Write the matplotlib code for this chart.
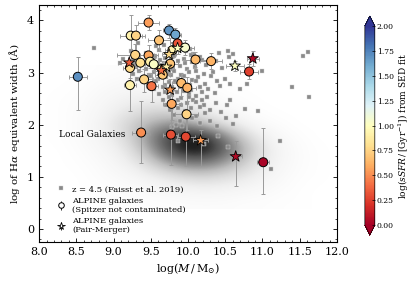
import matplotlib
matplotlib.use("Agg")
import matplotlib.pyplot as plt
import numpy as np
from matplotlib.ticker import AutoMinorLocator, MultipleLocator, FormatStrFormatter
from matplotlib.lines import Line2D

plt.rcParams['font.family'] = ['DejaVu Serif']
plt.rcParams['mathtext.fontset'] = 'dejavuserif'

# --- local galaxies: grey density (rows = y, cols = x)
dens_x = np.arange(8.0, 12.01, 0.25)
dens_y = np.array([0.5, 0.75, 1.0, 1.25, 1.5, 1.75, 2.0, 2.25, 2.5, 2.75, 3.0])
dens = np.array([
    [0, 0, 0, 0.00, 0.01, 0.01, 0.02, 0.02, 0.03, 0.03, 0.03, 0.02, 0.02, 0.01, 0.01, 0, 0],
    [0, 0, 0, 0.01, 0.02, 0.03, 0.05, 0.07, 0.09, 0.10, 0.09, 0.07, 0.05, 0.03, 0.01, 0, 0],
    [0, 0, 0, 0.02, 0.04, 0.07, 0.12, 0.18, 0.24, 0.26, 0.22, 0.16, 0.10, 0.05, 0.02, 0.01, 0],
    [0, 0, 0.01, 0.03, 0.07, 0.14, 0.28, 0.45, 0.58, 0.58, 0.46, 0.30, 0.16, 0.07, 0.03, 0.01, 0],
    [0, 0, 0.02, 0.05, 0.10, 0.22, 0.46, 0.76, 0.95, 0.92, 0.70, 0.42, 0.20, 0.08, 0.03, 0.01, 0],
    [0, 0.01, 0.03, 0.07, 0.15, 0.30, 0.55, 0.80, 0.94, 0.85, 0.58, 0.30, 0.13, 0.05, 0.02, 0, 0],
    [0, 0.01, 0.03, 0.08, 0.17, 0.30, 0.42, 0.50, 0.47, 0.34, 0.20, 0.10, 0.04, 0.02, 0, 0, 0],
    [0, 0.01, 0.03, 0.06, 0.12, 0.19, 0.25, 0.26, 0.21, 0.13, 0.07, 0.03, 0.01, 0, 0, 0, 0],
    [0, 0.01, 0.02, 0.05, 0.08, 0.11, 0.12, 0.11, 0.08, 0.05, 0.02, 0.01, 0, 0, 0, 0, 0],
    [0, 0, 0.01, 0.03, 0.05, 0.06, 0.06, 0.05, 0.03, 0.02, 0, 0, 0, 0, 0, 0, 0],
    [0, 0, 0, 0.01, 0.02, 0.03, 0.03, 0.02, 0.01, 0, 0, 0, 0, 0, 0, 0, 0],
])

# --- z = 4.5 galaxies (Faisst et al. 2019)
f_mass = [9.33, 9.57, 9.68, 9.93, 10.02,
          9.24, 9.43, 9.61, 9.74, 9.97, 10.07, 10.42,
          9.13, 9.31, 9.46, 9.56, 9.69, 9.81, 9.94, 10.04, 10.16, 10.55,
          9.08, 9.27, 9.39, 9.51, 9.63, 9.71, 9.87, 9.96, 10.06, 10.19, 10.38,
          9.19, 9.29, 9.44, 9.57, 9.67, 9.79, 9.89, 9.99, 10.09, 10.24, 10.46,
          9.26, 9.34, 9.47, 9.54, 9.63, 9.73, 9.81, 9.91, 10.01, 10.11, 10.21, 10.34,
          9.31, 9.49, 9.59, 9.71, 9.77, 9.86, 9.94, 10.06, 10.14, 10.31, 10.49,
          9.46, 9.57, 9.69, 9.74, 9.83, 9.91, 10.03, 10.11, 10.23, 10.39, 10.56,
          9.54, 9.66, 9.73, 9.79, 9.89, 9.96, 10.04, 10.16, 10.27, 10.43, 10.70,
          9.61, 9.69, 9.79, 9.85, 9.94, 10.01, 10.11, 10.19, 10.36,
          9.66, 9.74, 9.86, 9.91, 10.01, 10.07, 10.19, 10.26, 10.56,
          9.71, 9.81, 9.91, 9.99, 10.11, 10.21, 10.37, 10.53,
          9.76, 9.87, 9.96, 10.04, 10.16, 10.29, 10.76,
          9.81, 9.94, 10.11, 10.23, 10.44, 10.65, 10.94,
          9.89, 10.06, 10.29, 10.51,
          9.84, 10.16, 10.39, 10.61,
          9.79, 9.92, 9.87, 10.21, 10.54, 11.12, 11.23, 10.40,
          8.74, 10.54, 10.60, 10.79, 11.00, 11.40, 11.55, 11.61, 11.63]
f_ew = [3.57, 3.51, 3.53, 3.48, 3.45,
        3.42, 3.38, 3.44, 3.37, 3.41, 3.36, 3.38,
        3.27, 3.33, 3.26, 3.32, 3.28, 3.31, 3.27, 3.33, 3.29, 3.30,
        3.18, 3.23, 3.16, 3.22, 3.24, 3.17, 3.23, 3.18, 3.21, 3.24, 3.22,
        3.08, 3.13, 3.06, 3.12, 3.14, 3.07, 3.13, 3.06, 3.11, 3.14, 3.08,
        2.98, 3.03, 2.96, 3.02, 3.04, 2.97, 3.03, 2.96, 3.02, 3.04, 2.97, 3.01,
        2.88, 2.93, 2.87, 2.92, 2.95, 2.88, 2.93, 2.86, 2.92, 2.94, 2.88,
        2.78, 2.83, 2.77, 2.82, 2.84, 2.78, 2.77, 2.83, 2.78, 2.84, 2.79,
        2.68, 2.73, 2.67, 2.72, 2.74, 2.68, 2.66, 2.73, 2.69, 2.74, 2.69,
        2.58, 2.63, 2.57, 2.62, 2.64, 2.58, 2.56, 2.63, 2.61,
        2.48, 2.53, 2.47, 2.52, 2.54, 2.48, 2.47, 2.53, 2.48,
        2.38, 2.43, 2.37, 2.42, 2.44, 2.38, 2.42, 2.37,
        2.28, 2.33, 2.27, 2.32, 2.34, 2.28, 2.30,
        2.18, 2.23, 2.17, 2.22, 2.24, 2.17, 2.26,
        2.08, 2.13, 2.07, 2.12,
        1.99, 2.03, 1.97, 2.02,
        1.96, 1.98, 1.68, 1.63, 1.58, 1.15, 1.68, 1.78,
        3.47, 3.41, 3.35, 2.78, 3.03, 2.73, 3.31, 3.39, 2.53]

# --- ALPINE galaxies (Spitzer not contaminated)
a_mass = [8.52, 9.23, 9.30, 9.47, 9.745, 9.83, 9.86, 9.61, 9.79, 9.96, 9.29,
          9.47, 10.10, 10.31, 9.36, 9.49, 9.54, 9.22, 9.76, 9.65, 9.66, 9.41,
          9.22, 9.51, 9.91, 9.99, 9.78, 9.98, 9.37, 9.77, 9.97, 10.82, 11.01]
a_ew = [2.92, 3.71, 3.71, 3.96, 3.81, 3.73, 3.56, 3.62, 3.43, 3.48, 3.34,
        3.33, 3.25, 3.22, 3.19, 3.21, 3.16, 3.09, 3.17, 3.07, 2.96, 2.87,
        2.76, 2.74, 2.80, 2.71, 2.40, 2.20, 1.85, 1.81, 1.77, 3.02, 1.28]
a_ssfr = [1.70, 0.92, 0.75, 0.55, 1.68, 1.62, 0.32, 0.68, 0.92, 1.05, 0.75,
          0.58, 0.65, 0.62, 0.80, 0.90, 1.02, 0.78, 0.68, 0.95, 0.70, 0.75,
          0.92, 0.42, 0.65, 0.62, 0.58, 0.75, 0.50, 0.30, 0.28, 0.25, 0.02]
a_xerr = [0.12, 0.15, 0.12, 0.14, 0.08, 0.08, 0.10, 0.15, 0.10, 0.12, 0.25,
          0.12, 0.15, 0.15, 0.15, 0.12, 0.12, 0.10, 0.10, 0.10, 0.10, 0.12,
          0.08, 0.08, 0.12, 0.12, 0.12, 0.15, 0.12, 0.10, 0.12, 0.12, 0.08]
a_ylo = [0.64, 0.45, 0.30, 0.15, 0.15, 0.15, 0.15, 0.20, 0.15, 0.15, 0.20,
         0.20, 0.15, 0.15, 0.15, 0.12, 0.12, 0.20, 0.20, 0.15, 0.20, 0.25,
         0.50, 0.30, 0.25, 0.25, 0.30, 0.30, 0.58, 0.58, 0.57, 0.15, 0.61]
a_yhi = [0.38, 0.40, 0.20, 0.14, 0.12, 0.12, 0.15, 0.20, 0.15, 0.15, 0.20,
         0.20, 0.15, 0.15, 0.15, 0.12, 0.12, 0.15, 0.15, 0.15, 0.20, 0.20,
         0.35, 0.25, 0.20, 0.20, 0.25, 0.25, 0.60, 0.50, 0.40, 0.15, 0.65]

# --- ALPINE galaxies (Pair-Merger)
p_mass = [9.21, 9.745, 9.86, 9.71, 9.76, 10.17, 10.63, 10.87, 10.64, 9.64]
p_ew = [3.19, 3.35, 3.47, 3.11, 2.67, 1.70, 3.13, 3.27, 1.39, 3.04]
p_ssfr = [0.35, 0.78, 1.00, 0.90, 0.55, 0.55, 1.00, 0.05, 0.05, 0.40]
p_xerr = [0.15, 0.10, 0.10, 0.10, 0.10, 0.10, 0.12, 0.08, 0.08, 0.10]
p_ylo = [0.15, 0.15, 0.12, 0.12, 0.20, 0.50, 0.10, 0.15, 0.56, 0.15]
p_yhi = [0.15, 0.15, 0.12, 0.12, 0.20, 0.20, 0.10, 0.15, 0.30, 0.15]

fig = plt.figure(figsize=(4.16, 2.86), dpi=100)
ax = fig.add_axes([0.094, 0.154, 0.716, 0.829])
cax = fig.add_axes([0.877, 0.178, 0.024, 0.766])

step = 0.25
ax.imshow(dens, origin='lower', cmap='Greys', vmin=0, vmax=1.0, aspect='auto',
          interpolation='bicubic', zorder=0,
          extent=[dens_x[0] - step / 2, dens_x[-1] + step / 2,
                  dens_y[0] - step / 2, dens_y[-1] + step / 2])
ax.text(8.27, 1.81, 'Local Galaxies', fontsize=6.5, va='center', ha='left', zorder=5)

ax.plot(f_mass, f_ew, 's', ms=2.6, color='#8a8a8a', mec='#d0d0d0', mew=0.3,
        zorder=2, linestyle='none')

ax.errorbar(a_mass, a_ew, xerr=a_xerr, yerr=[a_ylo, a_yhi], fmt='none',
            ecolor='#9a9a9a', elinewidth=0.7, capsize=1.5, capthick=0.7, zorder=3)
ax.errorbar(p_mass, p_ew, xerr=p_xerr, yerr=[p_ylo, p_yhi], fmt='none',
            ecolor='#9a9a9a', elinewidth=0.7, capsize=1.5, capthick=0.7, zorder=3)

cmap = plt.get_cmap('RdYlBu')
sc = ax.scatter(a_mass, a_ew, c=a_ssfr, cmap=cmap, vmin=0, vmax=2, s=42,
                edgecolors='black', linewidths=0.7, zorder=4)
ax.scatter(p_mass, p_ew, c=p_ssfr, cmap=cmap, vmin=0, vmax=2, s=70, marker='*',
           edgecolors='black', linewidths=0.6, zorder=4)

ax.set_xlim(8.0, 12.0)
ax.set_ylim(-0.25, 4.3)
ax.xaxis.set_major_locator(MultipleLocator(0.5))
ax.xaxis.set_minor_locator(AutoMinorLocator(5))
ax.yaxis.set_major_locator(MultipleLocator(1))
ax.yaxis.set_minor_locator(AutoMinorLocator(5))
ax.tick_params(which='both', direction='in', top=True, right=True, labelsize=8)
ax.tick_params(which='major', length=3, width=0.6)
ax.tick_params(which='minor', length=1.5, width=0.5)
for sp in ax.spines.values():
    sp.set_linewidth(0.8)
ax.set_xlabel(r'$\log(M\,/\,\mathrm{M}_{\odot})$', fontsize=8, labelpad=3)
ax.set_ylabel(r'log of H$\alpha$ equivalent width ($\mathrm{\AA}$)', fontsize=7.5, labelpad=4)

handles = [
    Line2D([], [], marker='s', ms=2.6, color='#8a8a8a', mec='#d0d0d0', mew=0.3, ls='none'),
    ax.errorbar([], [], yerr=[], fmt='o', ms=4, mfc='white', mec='black', mew=0.7,
                ecolor='black', elinewidth=0.6, capsize=1.2),
    ax.errorbar([], [], yerr=[], fmt='*', ms=5.5, mfc='white', mec='black', mew=0.6,
                ecolor='black', elinewidth=0.6, capsize=1.2),
]
labels = ['z = 4.5 (Faisst et al. 2019)',
          'ALPINE galaxies\n(Spitzer not contaminated)',
          'ALPINE galaxies\n(Pair-Merger)']
ax.legend(handles, labels, loc='lower left', fontsize=6, frameon=False,
          handlelength=1.2, handletextpad=0.8, borderaxespad=0.5, labelspacing=0.4,
          bbox_to_anchor=(0.03, 0.0))

cb = fig.colorbar(sc, cax=cax, extend='both')
cb.set_ticks(np.arange(0, 2.01, 0.25))
cb.ax.yaxis.set_major_formatter(FormatStrFormatter('%.2f'))
cb.ax.tick_params(labelsize=5.5, direction='in', length=2, width=0.5, pad=1.5)
cb.ax.minorticks_off()
cb.outline.set_linewidth(0.5)
cb.set_label(r'$\log(sSFR\,/\,[\mathrm{Gyr}^{-1}])$ from SED fit', fontsize=6.5, labelpad=2)

fig.savefig('out.png', dpi=100)
